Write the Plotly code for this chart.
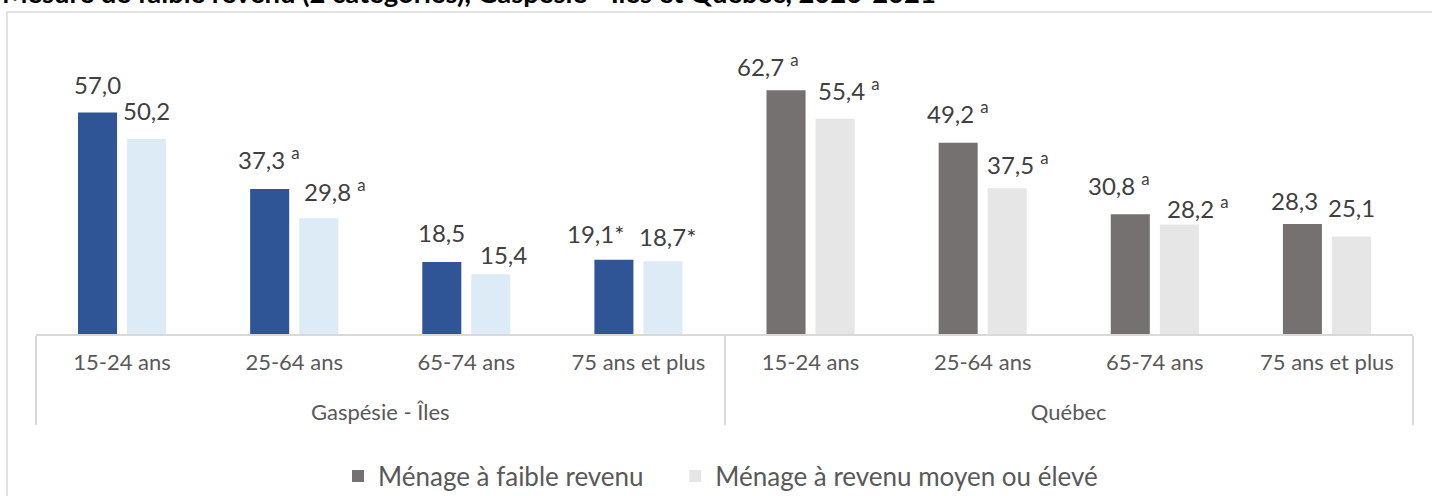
import plotly.graph_objects as go

# ---- data ----
regions = ["Gaspésie - Îles", "Québec"]
ages = ["15-24 ans", "25-64 ans", "65-74 ans", "75 ans et plus"]
gaspe_faible = [57.0, 37.3, 18.5, 19.1]
gaspe_moyen = [50.2, 29.8, 15.4, 18.7]
qc_faible = [62.7, 49.2, 30.8, 28.3]
qc_moyen = [55.4, 37.5, 28.2, 25.1]
gaspe_faible_notes = ["", "a", "", "*"]
gaspe_moyen_notes = ["", "a", "", "*"]
qc_faible_notes = ["a", "a", "a", ""]
qc_moyen_notes = ["a", "a", "a", ""]
series_names = ["Ménage à faible revenu", "Ménage à revenu moyen ou élevé"]
title_text = "Mesure de faible revenu (2 catégories), Gaspésie - Îles et Québec, 2020-2021"

# ---- style ----
FONT = "Lato"
C_G_DARK, C_G_LIGHT = "#2F5597", "#DDEBF7"
C_Q_DARK, C_Q_LIGHT = "#767171", "#E7E6E6"
LINE = "#D9D9D9"
LABEL_COLOR = "#404040"
AXIS_COLOR = "#595959"
BARGAP, BARGROUPGAP = 0.43, 0.204

W, H = 1432, 496
ML, MR, MT, MB = 36, 19, 62, 162
YMAX = 70
PW, PH = W - ML - MR, H - MT - MB

# manual label placement (px): horizontal nudge from bar centre, gap baseline->bar top
gf_dx, gf_gap = [0, -1, 0, -18], [19, 20, 20, 17]
gm_dx, gm_gap = [0, 16, 13, 5], [19, 17, 10, 15]
qf_dx, qf_gap = [-18, 0, -11, -8], [14, 20, 19, 14]
qm_dx, qm_gap = [14, 11, 19, 0], [19, 14, 6, 19]
BASE_OFFSET = 7  # annotation box bottom below text baseline

TICK_SIZE = 15.5     # base tick font size (sets spacing between the two label levels)
TICK_TEXT_SIZE = 22  # displayed size of axis labels
LEGEND_PAD = 4       # non-breaking spaces after first legend entry (item spacing)


def fmt(v, note):
    s = f"{v:.1f}".replace(".", ",")
    if note == "a":
        return s + " <sup>a</sup>"
    return s + note


SPACER = "<br><span style='font-size:4px'>\u00a0</span>"


def inner_label(t):
    return f"<span style='font-size:{TICK_TEXT_SIZE}px'>{t}</span>" + SPACER * 2


def outer_label(t):
    return f"<span style='font-size:{TICK_TEXT_SIZE}px'>{t}</span>"


fig = go.Figure()
traces = [
    (regions[0], gaspe_faible, C_G_DARK, "f", series_names[0], False),
    (regions[0], gaspe_moyen, C_G_LIGHT, "m", series_names[1], False),
    (regions[1], qc_faible, C_Q_DARK, "f", series_names[0] + "\u00a0" * LEGEND_PAD, True),
    (regions[1], qc_moyen, C_Q_LIGHT, "m", series_names[1], True),
]
for reg, vals, col, og, name, leg in traces:
    fig.add_trace(go.Bar(
        x=[[outer_label(reg)] * len(ages), [inner_label(a) for a in ages]],
        y=vals, name=name,
        marker=dict(color=col, line=dict(width=0)),
        offsetgroup=og, showlegend=leg, hoverinfo="skip",
    ))

# data labels (annotations on an overlay index axis)
half_slot = (1 - BARGAP) / 4
label_sets = [
    (0, gaspe_faible, gaspe_faible_notes, -1, gf_dx, gf_gap),
    (0, gaspe_moyen, gaspe_moyen_notes, 1, gm_dx, gm_gap),
    (1, qc_faible, qc_faible_notes, -1, qf_dx, qf_gap),
    (1, qc_moyen, qc_moyen_notes, 1, qm_dx, qm_gap),
]
for reg_i, vals, notes, side, dxs, gaps in label_sets:
    for j, (v, n) in enumerate(zip(vals, notes)):
        idx = reg_i * len(ages) + j
        fig.add_annotation(
            x=idx + side * half_slot, y=v, xref="x2", yref="y",
            text=fmt(v, n), showarrow=False, yanchor="bottom", xanchor="center",
            xshift=dxs[j], yshift=gaps[j] - BASE_OFFSET,
            font=dict(family=FONT, size=24, color=LABEL_COLOR),
        )

# title (cut at the top as in the source)
fig.add_annotation(
    x=(0 - ML) / PW, y=(H - MB - 11) / PH,
    xref="paper", yref="paper", xanchor="left", yanchor="bottom",
    text="<b>" + title_text + "</b>", showarrow=False,
    font=dict(family=FONT, size=27.4, color="#000000"),
)

# outer chart frame
fig.add_shape(type="rect", xref="paper", yref="paper",
              x0=(7 - ML) / PW, x1=(W + 20 - ML) / PW,
              y0=-(MB + 20) / PH, y1=(H - MB - 12) / PH,
              line=dict(color=LINE, width=1.5), fillcolor="rgba(0,0,0,0)", layer="below")

fig.update_layout(
    width=W, height=H,
    margin=dict(l=ML, r=MR, t=MT, b=MB, autoexpand=False),
    paper_bgcolor="white", plot_bgcolor="white",
    barmode="group", bargap=BARGAP, bargroupgap=BARGROUPGAP,
    font=dict(family=FONT, size=22, color=AXIS_COLOR),
    xaxis=dict(
        type="multicategory", showline=True, linecolor=LINE, linewidth=1.5,
        showgrid=False, zeroline=False,
        ticks="", ticklabelstandoff=16,
        showdividers=True, dividercolor=LINE, dividerwidth=1.5,
        tickfont=dict(family=FONT, size=TICK_SIZE, color=AXIS_COLOR),
        range=[-0.5, 7.5],
    ),
    xaxis2=dict(overlaying="x", anchor="y", range=[-0.5, 7.5], visible=False),
    yaxis=dict(range=[0, YMAX], visible=False),
    legend=dict(
        orientation="h", x=(338 - ML) / PW, xanchor="left",
        y=(H - MB - 476) / PH, yanchor="middle",
        font=dict(family=FONT, size=26, color=AXIS_COLOR),
        bgcolor="rgba(0,0,0,0)",
    ),
    showlegend=True,
)

fig.write_html("out.html", config={"displayModeBar": False},
               post_script="document.body.style.margin='0';")
